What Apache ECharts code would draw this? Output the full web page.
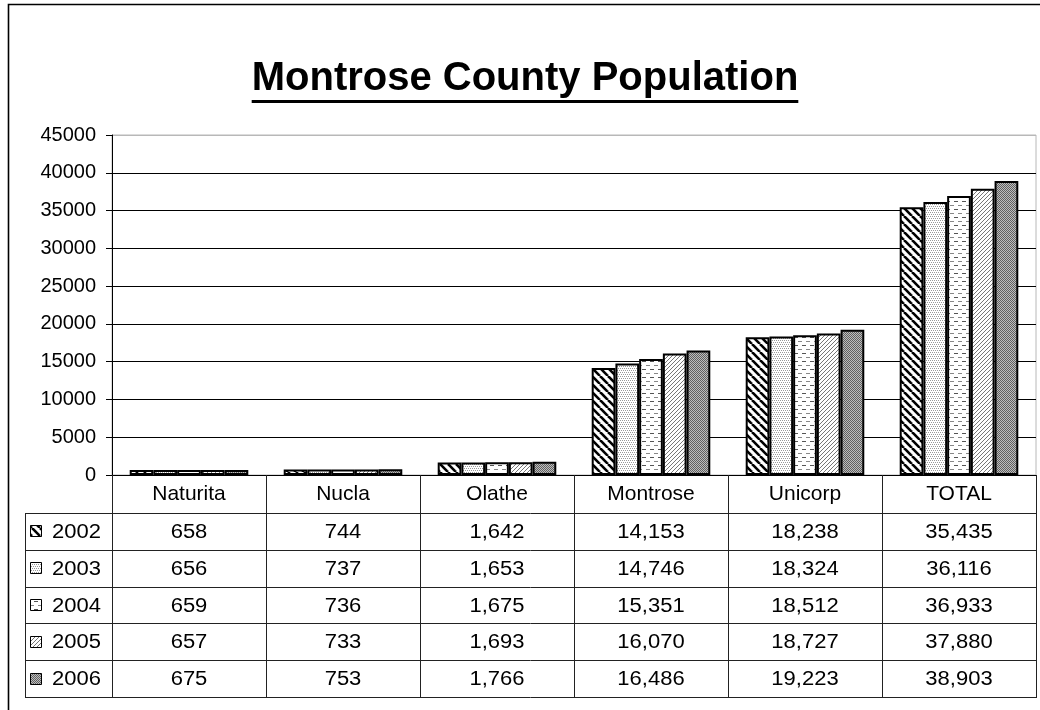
<!DOCTYPE html>
<html><head><meta charset="utf-8">
<script src="https://cdn.jsdelivr.net/npm/echarts@6/dist/echarts.min.js"></script>
<style>html,body{margin:0;padding:0;background:#fff}#c{width:1040px;height:710px}</style>
</head><body><div id="c"></div>
<script>
const titleText = 'Montrose County Population';
const categories = ['Naturita', 'Nucla', 'Olathe', 'Montrose', 'Unicorp', 'TOTAL'];
const years = ['2002', '2003', '2004', '2005', '2006'];
const v2002 = [658, 744, 1642, 14153, 18238, 35435];
const v2003 = [656, 737, 1653, 14746, 18324, 36116];
const v2004 = [659, 736, 1675, 15351, 18512, 36933];
const v2005 = [657, 733, 1693, 16070, 18727, 37880];
const v2006 = [675, 753, 1766, 16486, 19223, 38903];
const seriesValues = [v2002, v2003, v2004, v2005, v2006];
const yMin = 0, yMax = 45000, yInterval = 5000;

const FONT = '"Liberation Sans", Arial, sans-serif';

function makePattern(kind) {
  const c = document.createElement('canvas');
  let w = 8, h = 8;
  if (kind === 1 || kind === 3) { w = 4; h = 4; }
  if (kind === 4) { w = 2; h = 2; }
  c.width = w; c.height = h;
  const g = c.getContext('2d');
  g.fillStyle = '#fff'; g.fillRect(0, 0, w, h);
  if (kind === 0) {
    g.strokeStyle = '#000'; g.lineWidth = 2.6;
    for (const k of [-8, 0, 8]) { g.beginPath(); g.moveTo(k, 0); g.lineTo(k + 8, 8); g.stroke(); }
  } else if (kind === 1) {
    g.fillStyle = '#999';
    g.fillRect(0, 0, 1, 1); g.fillRect(2, 0, 1, 1); g.fillRect(1, 2, 1, 1); g.fillRect(3, 2, 1, 1);
  } else if (kind === 2) {
    g.fillStyle = '#555';
    g.fillRect(2, 1, 4, 1);
    g.fillStyle = '#888';
    g.fillRect(6, 5, 2, 1); g.fillRect(0, 5, 2, 1);
  } else if (kind === 3) {
    g.fillStyle = '#777';
    g.fillRect(3, 0, 1, 1); g.fillRect(2, 1, 1, 1); g.fillRect(1, 2, 1, 1); g.fillRect(0, 3, 1, 1);
  } else if (kind === 4) {
    g.fillStyle = '#bdbdbd'; g.fillRect(0, 0, 2, 2);
    g.fillStyle = '#606060'; g.fillRect(0, 0, 1, 1); g.fillRect(1, 1, 1, 1);
  }
  return c;
}
const patterns = years.map((y, i) => makePattern(i));

const chart = echarts.init(document.getElementById('c'), null, { renderer: 'canvas' });

const gridColors = [];
for (let v = yMin; v <= yMax; v += yInterval) gridColors.push(v === yMax ? '#b8b8b8' : '#000');

chart.setOption({
  animation: false,
  backgroundColor: '#fff',
  grid: { left: 112, right: 4, top: 135, bottom: 235, show: true, borderColor: '#b8b8b8', borderWidth: 1, backgroundColor: 'transparent' },
  xAxis: {
    type: 'category', data: categories,
    axisLine: { lineStyle: { color: '#000', width: 1 } },
    axisTick: { show: false },
    axisLabel: { color: '#000', fontSize: 21, fontFamily: FONT, margin: 9, interval: 0 }
  },
  yAxis: {
    type: 'value', min: yMin, max: yMax, interval: yInterval,
    axisLine: { show: true, lineStyle: { color: '#000', width: 1 } },
    axisTick: { show: true, length: 6, lineStyle: { color: '#000' } },
    axisLabel: { color: '#000', fontSize: 20, fontFamily: FONT, margin: 16, formatter: v => String(v) },
    splitLine: { show: true, lineStyle: { color: gridColors, width: 1 } }
  },
  series: seriesValues.map((vals, i) => ({
    type: 'bar', name: years[i], data: vals,
    barGap: '0%', barCategoryGap: '23%',
    itemStyle: { color: { image: patterns[i], repeat: 'repeat' }, borderColor: '#000', borderWidth: 2 }
  }))
});

function fmt(n) { return n.toLocaleString('en-US'); }

function drawExtras() {
  const xs = categories.map((c, i) => chart.convertToPixel({ xAxisIndex: 0 }, i));
  const band = xs[1] - xs[0];
  const left = xs[0] - band / 2;
  const right = xs[xs.length - 1] + band / 2;
  const y0 = chart.convertToPixel({ yAxisIndex: 0 }, 0);
  const headerH = 38, rowH = 36.8, tableLeft = 25;
  const rowsTop = y0 + headerH;
  const tableBottom = rowsTop + rowH * years.length;
  const lineStyle = { stroke: '#222', lineWidth: 1 };
  const cellFont = '20px ' + FONT;
  const sx = 1.1;
  const els = [];
  els.push({ type: 'rect', shape: { x: 8.5, y: 4.5, width: 1100, height: 800 }, style: { fill: 'none', stroke: '#000', lineWidth: 1.6 }, z: 100, silent: true });
  const ctx = document.createElement('canvas').getContext('2d');
  const tFont = 'bold 40px ' + FONT;
  ctx.font = tFont;
  const tw = ctx.measureText(titleText).width;
  const tcx = 525, tcy = 79;
  els.push({ type: 'text', x: tcx, y: tcy, style: { text: titleText, font: tFont, fill: '#000', align: 'center', verticalAlign: 'middle' }, z: 100 });
  els.push({ type: 'rect', shape: { x: tcx - tw / 2, y: 100, width: tw, height: 3 }, style: { fill: '#000' }, z: 100 });
  for (let r = 0; r <= years.length; r++) {
    const y = Math.round(rowsTop + r * rowH) + 0.5;
    els.push({ type: 'line', shape: { x1: tableLeft, y1: y, x2: right, y2: y }, style: lineStyle, z: 50 });
  }
  els.push({ type: 'line', shape: { x1: tableLeft + 0.5, y1: Math.round(rowsTop), x2: tableLeft + 0.5, y2: Math.round(tableBottom) + 1 }, style: lineStyle, z: 50 });
  for (let j = 0; j <= categories.length; j++) {
    const x = Math.round(left + j * band) + 0.5;
    els.push({ type: 'line', shape: { x1: x, y1: Math.round(y0), x2: x, y2: Math.round(tableBottom) + 1 }, style: lineStyle, z: 50 });
  }
  years.forEach((yr, r) => {
    const cy = rowsTop + r * rowH + rowH / 2;
    els.push({ type: 'rect', shape: { x: 30.5, y: Math.round(cy - 6) + 0.5, width: 11, height: 11 }, style: { fill: { image: patterns[r], repeat: 'repeat' }, stroke: '#000', lineWidth: 1 }, z: 60 });
    els.push({ type: 'text', x: 52, y: cy + 1, scaleX: sx, style: { text: yr, font: cellFont, fill: '#000', align: 'left', verticalAlign: 'middle' }, z: 60 });
    seriesValues[r].forEach((v, j) => {
      els.push({ type: 'text', x: xs[j], y: cy + 1, scaleX: sx, style: { text: fmt(v), font: cellFont, fill: '#000', align: 'center', verticalAlign: 'middle' }, z: 60 });
    });
  });
  chart.setOption({ graphic: els });
}
drawExtras();
</script>
</body></html>
